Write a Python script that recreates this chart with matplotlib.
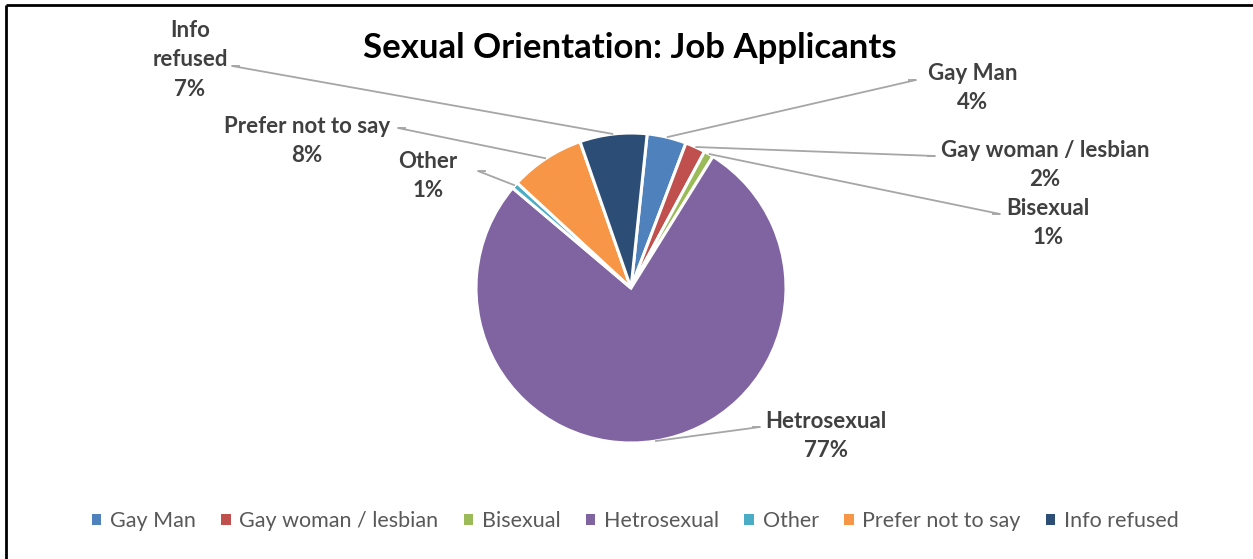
import matplotlib
matplotlib.use("Agg")
import matplotlib.pyplot as plt
from matplotlib.patches import Rectangle
import numpy as np

plt.rcParams['font.family'] = ['Lato', 'DejaVu Sans']

categories = ["Gay Man", "Gay woman / lesbian", "Bisexual", "Hetrosexual",
              "Other", "Prefer not to say", "Info refused"]
shares = [4.1, 2.1, 1.0, 77.3, 0.7, 7.8, 7.0]
colors = ["#4F81BD", "#C0504D", "#9BBB59", "#8064A2", "#4BACC6", "#F79646", "#2C4D75"]
title = "Sexual Orientation: Job Applicants"

W, H = 1253, 559
fig = plt.figure(figsize=(W / 100, H / 100), dpi=100)
ax = fig.add_axes([0, 0, 1, 1])

cx, cy, R = 631, 271, 155
start = 84  # first slice begins slightly right of 12 o'clock
wedges, _ = ax.pie(shares, colors=colors, startangle=start, counterclock=False,
                   radius=R, center=(cx, cy), frame=True,
                   wedgeprops=dict(edgecolor='white', linewidth=2.2))
ax.set_xlim(0, W)
ax.set_ylim(0, H)
ax.set_aspect('equal')
ax.axis('off')

# label text centre and leader elbow position
label_pos = {
    "Gay Man": (973, H - 88, 916),
    "Gay woman / lesbian": (1045, H - 165, 935),
    "Bisexual": (1048, H - 223, 1000),
    "Hetrosexual": (826, H - 436, 760),
    "Other": (428, H - 176, 478),
    "Prefer not to say": (307, H - 141, 398),
    "Info refused": (190, H - 60, 232),
}
elbow_y = {
    "Gay Man": H - 80, "Gay woman / lesbian": H - 156, "Bisexual": H - 214,
    "Hetrosexual": H - 427, "Other": H - 171, "Prefer not to say": H - 128,
    "Info refused": H - 66,
}
text_lines = {
    "Info refused": "Info\nrefused",
}

cum = 0.0
total = sum(shares)
for name, val in zip(categories, shares):
    mid = start - (cum + val / 2) / total * 360
    cum += val
    px = cx + R * np.cos(np.radians(mid))
    py = cy + R * np.sin(np.radians(mid))
    tx, ty, ex = label_pos[name]
    ey = elbow_y[name]
    hx = ex + (8 if ex > tx else -8)
    ax.plot([px, ex, hx], [py, ey, ey], color='#A6A6A6', lw=1.3,
            solid_capstyle='butt', zorder=1)
    label = text_lines.get(name, name) + "\n" + f"{val:.0f}%"
    ax.text(tx, ty, label, ha='center', va='center', fontsize=16,
            fontweight='bold', color='#404040', linespacing=1.5)

ax.text(630, H - 48, title, ha='center', va='center', fontsize=25,
        fontweight='bold', color='black')

# frame edges
ax.plot([6, W], [H - 5, H - 5], color='black', lw=2, solid_capstyle='butt')
ax.plot([6, 6], [0, H - 5], color='black', lw=2, solid_capstyle='butt')

handles = [Rectangle((0, 0), 1, 1, facecolor=c) for c in colors]
leg = fig.legend(handles, categories, loc='center', bbox_to_anchor=(0.507, 1 - 521 / H),
                 ncol=7, frameon=False, fontsize=15.5, handlelength=0.45,
                 handleheight=0.45, handletextpad=0.4, columnspacing=1.17)
for t in leg.get_texts():
    t.set_color('#595959')

fig.savefig("out.png", dpi=100)
